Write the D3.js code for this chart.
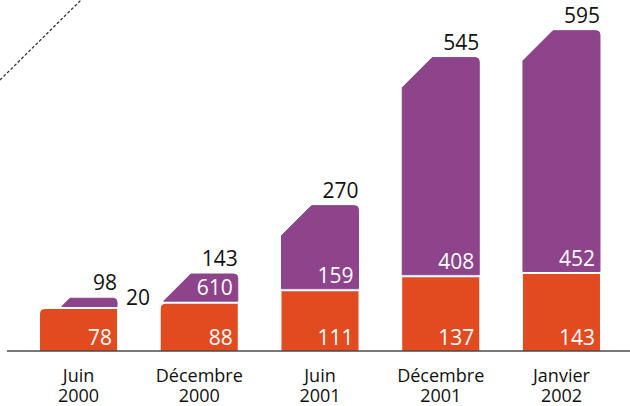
<!DOCTYPE html>
<html>
<head>
<meta charset="utf-8">
<script src="https://cdn.jsdelivr.net/npm/d3@7"></script>
<style>
  html, body { margin: 0; padding: 0; background: #fff; }
  svg { display: block; font-family: "Open Sans", sans-serif; }
</style>
</head>
<body>
<div id="chart"></div>
<script>
// data
const months = ["Juin", "Décembre", "Juin", "Décembre", "Janvier"];
const years = ["2000", "2000", "2001", "2001", "2002"];
const lower = [78, 88, 111, 137, 143];
const upper = [20, 55, 159, 408, 452];
const upperLabels = ["20", "610", "159", "408", "452"]; // as printed
const totals = [98, 143, 270, 545, 595];

const width = 630;
const height = 406;
const baseline = 351;
const orange = "#e24a20";
const purple = "#8d448b";
const cut = 30; // chamfer on the top-left corner

const keys = months.map((m, i) => m + " " + years[i]);

const x = d3.scaleBand()
  .domain(keys)
  .range([3.8, 636.2])
  .paddingInner(0.362)
  .paddingOuter(0.3)

const y = d3.scaleLinear()
  .domain([0, 600])
  .range([baseline, 28])

const svg = d3.select("#chart").append("svg")
  .attr("width", width)
  .attr("height", height)

// dashed pointer line in the corner
svg.append("line")
  .attr("x1", 0).attr("y1", 80)
  .attr("x2", 81).attr("y2", 0)
  .attr("stroke", "#333")
  .attr("stroke-width", 1.3)
  .attr("stroke-dasharray", "3,2")

const data = keys.map((k, i) => ({
  key: k, lo: lower[i], up: upper[i], label: upperLabels[i], total: totals[i]
}));

function lowerPath(d) {
  const x0 = x(d.key), x1 = x0 + x.bandwidth();
  const yt = y(d.lo);
  const round = (y(d.lo) - y(d.lo + d.up)) < cut ? 5 : 0;
  return `M${x0},${baseline} L${x0},${yt + round} Q${x0},${yt} ${x0 + round},${yt}
    L${x1},${yt} L${x1},${baseline} Z`;
}

function upperPath(d) {
  const x0 = x(d.key), x1 = x0 + x.bandwidth();
  const yt = y(d.lo + d.up), yb = y(d.lo) - 2.5;
  const h = yb - yt, r = 4;
  let p;
  if (h >= cut) {
    p = `M${x0},${yb} L${x0},${yt + cut} L${x0 + cut},${yt}`;
  } else {
    p = `M${x0 + cut - h},${yb} L${x0 + cut},${yt}`;
  }
  return p + ` L${x1 - r},${yt} Q${x1},${yt} ${x1},${yt + r} L${x1},${yb} Z`;
}

const bars = svg.append("g")
  .selectAll("g")
  .data(data)
  .join("g")

bars.append("path")
  .attr("d", lowerPath)
  .attr("fill", orange)

bars.append("path")
  .attr("d", upperPath)
  .attr("fill", purple)
  .attr("stroke", purple)
  .attr("stroke-width", 1)
  .attr("stroke-linejoin", "round")

// axis line
svg.append("line")
  .attr("x1", 7).attr("x2", width)
  .attr("y1", baseline).attr("y2", baseline)
  .attr("stroke", "#4a4a4a")
  .attr("stroke-width", 1.6)

const numSize = 21;

// lower values
bars.append("text")
  .attr("x", d => x(d.key) + x.bandwidth() - 5)
  .attr("y", baseline - 6)
  .attr("text-anchor", "end")
  .attr("font-size", numSize)
  .attr("fill", "#fff")
  .text(d => d.lo)

// upper values: inside when there is room, otherwise to the right
bars.append("text")
  .each(function(d) {
    const inside = y(d.lo) - y(d.lo + d.up) > 26;
    const t = d3.select(this);
    if (inside) {
      t.attr("x", x(d.key) + x.bandwidth() - 5)
        .attr("y", y(d.lo) - 2.5 - 6)
        .attr("text-anchor", "end")
        .attr("fill", "#fff")
    } else {
      t.attr("x", x(d.key) + x.bandwidth() + 9)
        .attr("y", y(d.lo) - 4)
        .attr("text-anchor", "start")
        .attr("fill", "#111")
    }
  })
  .attr("font-size", numSize)
  .text(d => d.label)

// totals
bars.append("text")
  .attr("x", d => x(d.key) + x.bandwidth())
  .attr("y", d => y(d.total) - 8)
  .attr("text-anchor", "end")
  .attr("font-size", numSize)
  .attr("fill", "#111")
  .text(d => d.total)

// category labels, two lines each
const labels = svg.append("g")
  .attr("font-size", 18)
  .attr("fill", "#111")
  .attr("text-anchor", "middle")

labels.selectAll(".month")
  .data(keys)
  .join("text")
  .attr("class", "month")
  .attr("x", k => x(k) + x.bandwidth() / 2)
  .attr("y", 382)
  .text((k, i) => months[i])

labels.selectAll(".year")
  .data(keys)
  .join("text")
  .attr("class", "year")
  .attr("x", k => x(k) + x.bandwidth() / 2)
  .attr("y", 402)
  .text((k, i) => years[i])
</script>
</body>
</html>
